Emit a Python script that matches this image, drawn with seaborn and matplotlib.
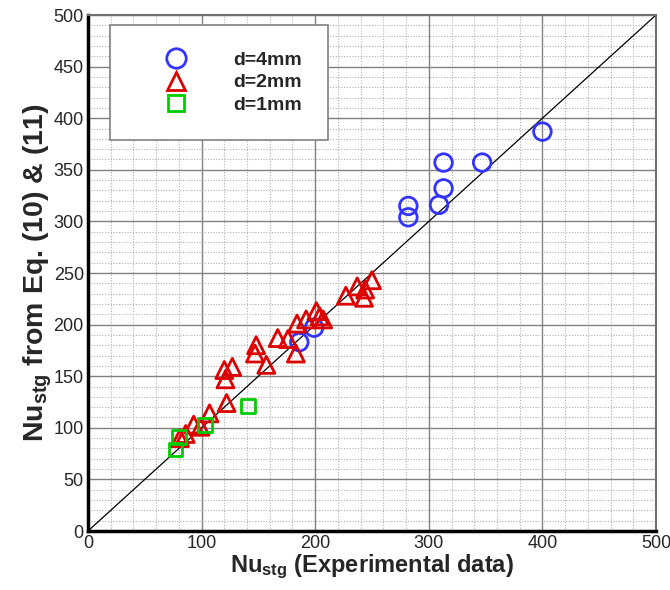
import matplotlib
matplotlib.use("Agg")
import matplotlib.pyplot as plt
from matplotlib.lines import Line2D
from matplotlib.ticker import MultipleLocator
import seaborn as sns
import pandas as pd

# ---- data ----
d4_exp = [400, 313, 347, 313, 309, 282, 282, 186, 199]
d4_eq = [387, 357, 357, 332, 316, 315, 304, 183, 197]

d2_exp = [250, 237, 244, 243, 227, 201, 204, 207, 192, 184, 167, 176, 183,
          148, 147, 157, 120, 127, 121, 122, 107, 99, 93, 86, 81]
d2_eq = [243, 237, 234, 226, 228, 213, 208, 205, 205, 201, 187, 186, 172,
         180, 172, 161, 156, 159, 147, 124, 114, 101, 103, 94, 90]

d1_exp = [141, 103, 80, 77]
d1_eq = [121, 103, 91, 79]

line_x = [0, 500]
line_y = [0, 500]

labels = ["d=4mm", "d=2mm", "d=1mm"]
colors = ["#3333ff", "#dd0000", "#00cc00"]
markers = ["o", "^", "s"]
sizes = [160, 150, 100]

# ---- figure ----
sns.set_style("white")
plt.rcParams["font.family"] = ["Liberation Sans", "DejaVu Sans"]
plt.rcParams["mathtext.fontset"] = "custom"
plt.rcParams["mathtext.rm"] = "Liberation Sans"
plt.rcParams["mathtext.bf"] = "Liberation Sans:bold"

fig = plt.figure(figsize=(6.7, 5.9), dpi=100)
ax = fig.add_axes([88 / 670, 59 / 590, (656 - 88) / 670, (531 - 15) / 590])

ax.set_xlim(0, 500)
ax.set_ylim(0, 500)
ax.xaxis.set_major_locator(MultipleLocator(100))
ax.xaxis.set_minor_locator(MultipleLocator(20))
ax.yaxis.set_major_locator(MultipleLocator(50))
ax.yaxis.set_minor_locator(MultipleLocator(10))

ax.grid(which="major", color="#808080", linewidth=1.0, linestyle="-", zorder=0)
ax.grid(which="minor", color="#b0b0b0", linewidth=0.8, linestyle=(0, (1, 1.5)), zorder=0)
ax.set_axisbelow(True)

ax.plot(line_x, line_y, color="black", linewidth=0.9, zorder=2)

groups = [(d4_exp, d4_eq), (d2_exp, d2_eq), (d1_exp, d1_eq)]
for (xs, ys), lab, c, m, s in zip(groups, labels, colors, markers, sizes):
    df = pd.DataFrame({"x": xs, "y": ys})
    n_before = len(ax.collections)
    sns.scatterplot(data=df, x="x", y="y", marker=m, s=s, ax=ax, legend=False,
                    color=c, zorder=3)
    coll = ax.collections[n_before]
    coll.set_facecolor("none")
    coll.set_edgecolor(c)
    coll.set_linewidth(2.0)

ax.tick_params(which="major", direction="in", length=8, width=2.5, color="black",
               labelsize=13, pad=3)
ax.tick_params(which="minor", direction="in", length=4, width=1.0, color="black")
ax.tick_params(axis="both", which="both", top=False, right=False)

for side in ["left", "bottom"]:
    ax.spines[side].set_color("black")
    ax.spines[side].set_linewidth(2.5)
for side in ["top", "right"]:
    ax.spines[side].set_color("#707070")
    ax.spines[side].set_linewidth(1.5)

ax.set_xlabel(r"$\mathbf{Nu_{stg}}$ (Experimental data)", fontsize=17,
              fontweight="bold", labelpad=0)
ax.set_ylabel(r"$\mathbf{Nu_{stg}}$ from Eq. (10) & (11)", fontsize=20.5,
              fontweight="bold", labelpad=0)

handles = [Line2D([], [], linestyle="none", marker=m, markersize=ms,
                  markerfacecolor="none", markeredgecolor=c, markeredgewidth=2)
           for m, c, ms in zip(markers, colors, [14, 13, 11])]
leg = ax.legend(handles, labels, loc="upper left", bbox_to_anchor=(22 / 568, 1 - 10 / 516),
                frameon=True, fancybox=False, framealpha=1, edgecolor="#808080",
                prop={"weight": "bold", "size": 14}, handletextpad=0.9,
                borderpad=1.35, labelspacing=0.25, handlelength=4.1, borderaxespad=0)
leg.get_frame().set_linewidth(1.2)

fig.savefig("out.png", dpi=100)
